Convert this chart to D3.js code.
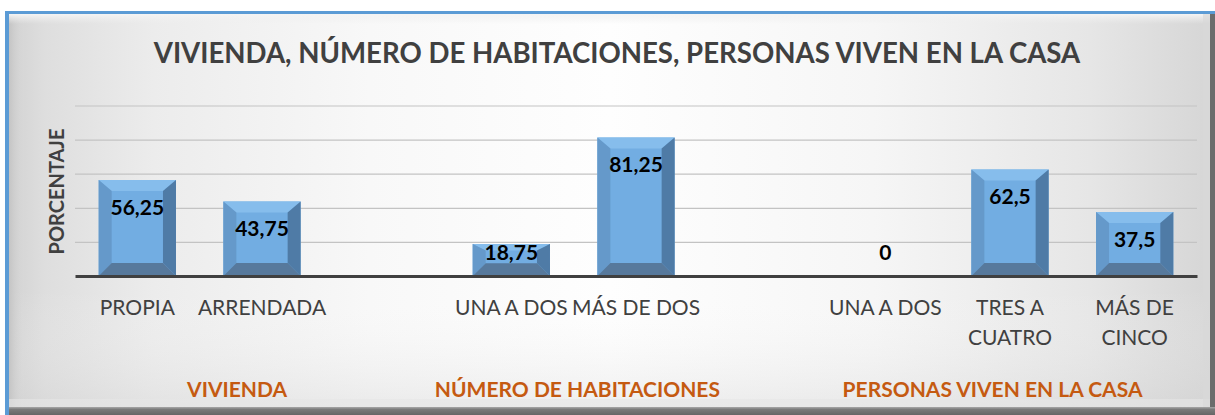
<!DOCTYPE html>
<html>
<head>
<meta charset="utf-8">
<script src="https://cdn.jsdelivr.net/npm/d3@7"></script>
<style>
  html, body { margin: 0; padding: 0; background: #ffffff; }
  svg { display: block; }
</style>
</head>
<body>
<svg id="chart" width="1215" height="415"></svg>
<script>
// ---------------- DATA ----------------
const title = "VIVIENDA, NÚMERO DE HABITACIONES, PERSONAS VIVEN EN LA CASA";
const yAxisTitle = "PORCENTAJE";
const categories = ["PROPIA", "ARRENDADA", "", "UNA A DOS", "MÁS DE DOS", "", "UNA A DOS", "TRES A CUATRO", "MÁS DE CINCO"];
const categoryLines = [["PROPIA"], ["ARRENDADA"], [], ["UNA A DOS"], ["MÁS DE DOS"], [], ["UNA A DOS"], ["TRES A", "CUATRO"], ["MÁS DE", "CINCO"]];
const values = [56.25, 43.75, null, 18.75, 81.25, null, 0, 62.5, 37.5];
const valueLabels = ["56,25", "43,75", "", "18,75", "81,25", "", "0", "62,5", "37,5"];
const groups = ["VIVIENDA", "NÚMERO DE HABITACIONES", "PERSONAS VIVEN EN LA CASA"];
const yTicks = [0, 20, 40, 60, 80, 100];

// ---------------- LAYOUT ----------------
const W = 1215, H = 415;
const plot = { left: 75, right: 1197, top: 105.5, bottom: 276 };
// group label centres, in category-slot units from the left of the plot
const groupSlotCentre = [1.30, 4.03, 7.36];

const svg = d3.select("#chart");
const defs = svg.append("defs");

// background gradients
const bg = defs.append("linearGradient").attr("id", "bgH").attr("x1", 0).attr("x2", 1).attr("y1", 0).attr("y2", 0);
[[0, "#d2d2d2"], [0.03, "#dedede"], [0.12, "#ececec"], [0.3, "#f8f8f8"], [0.5, "#fefefe"], [0.72, "#f6f6f6"], [0.9, "#e6e6e6"], [1, "#d6d6d6"]]
  .forEach(([o, c]) => bg.append("stop").attr("offset", o).attr("stop-color", c));
const bgV = defs.append("linearGradient").attr("id", "bgV").attr("x1", 0).attr("x2", 0).attr("y1", 0).attr("y2", 1);
[[0, "#ffffff", 0.0], [0.7, "#ffffff", 0.0], [1, "#d0d0d0", 0.35]]
  .forEach(([o, c, a]) => bgV.append("stop").attr("offset", o).attr("stop-color", c).attr("stop-opacity", a));
const botShadow = defs.append("linearGradient").attr("id", "botS").attr("x1", 0).attr("x2", 0).attr("y1", 0).attr("y2", 1);
[[0, "#a8a8a8"], [0.3, "#7a7a7a"], [1, "#666666"]]
  .forEach(([o, c]) => botShadow.append("stop").attr("offset", o).attr("stop-color", c));
const leftBevel = defs.append("linearGradient").attr("id", "lB").attr("x1", 0).attr("x2", 1).attr("y1", 0).attr("y2", 0);
[[0, "#c4c4c4", 1], [1, "#dcdcdc", 0]]
  .forEach(([o, c, a]) => leftBevel.append("stop").attr("offset", o).attr("stop-color", c).attr("stop-opacity", a));
const topBevel = defs.append("linearGradient").attr("id", "tB").attr("x1", 0).attr("x2", 0).attr("y1", 0).attr("y2", 1);
[[0, "#f4f4f4", 1], [1, "#eeeeee", 0]]
  .forEach(([o, c, a]) => topBevel.append("stop").attr("offset", o).attr("stop-color", c).attr("stop-opacity", a));

// frame
svg.append("rect").attr("x", 9).attr("y", 14).attr("width", 1201).attr("height", 393).attr("fill", "url(#bgH)");
svg.append("rect").attr("x", 9).attr("y", 14).attr("width", 1201).attr("height", 393).attr("fill", "url(#bgV)");
svg.append("rect").attr("x", 9).attr("y", 14).attr("width", 16).attr("height", 393).attr("fill", "url(#lB)");
svg.append("rect").attr("x", 9).attr("y", 14).attr("width", 1201).attr("height", 10).attr("fill", "url(#tB)");
svg.append("rect").attr("x", 9).attr("y", 399).attr("width", 1201).attr("height", 8).attr("fill", "#e6e6e6").attr("opacity", 0.6);
svg.append("rect").attr("x", 1203).attr("y", 14).attr("width", 7).attr("height", 393).attr("fill", "#d8d8d8").attr("opacity", 0.7);
svg.append("rect").attr("x", 1210).attr("y", 14).attr("width", 5).attr("height", 401).attr("fill", "#6c6c6c");
svg.append("rect").attr("x", 9).attr("y", 407).attr("width", 1206).attr("height", 8).attr("fill", "url(#botS)");
// blue border (top & left)
svg.append("rect").attr("x", 5).attr("y", 11).attr("width", 1210).attr("height", 3).attr("fill", "#5b9bd5");
svg.append("rect").attr("x", 5).attr("y", 11).attr("width", 4).attr("height", 404).attr("fill", "#5b9bd5");

// ---------------- SCALES ----------------
const x = d3.scaleBand().domain(d3.range(categories.length)).range([plot.left, plot.right])
  .paddingInner(0.38).paddingOuter(0.19);
const y = d3.scaleLinear().domain([0, 100]).range([plot.bottom, plot.top]);
const step = x.step();

// gridlines
const grid = svg.append("g").attr("transform", `translate(${plot.left},0)`)
  .call(d3.axisLeft(y).tickValues(yTicks.filter(t => t > 0)).tickSize(-(plot.right - plot.left)).tickFormat(""));
grid.select(".domain").remove();
grid.selectAll(".tick line").attr("stroke", "#c3c3c3").attr("stroke-width", 1.2);

// ---------------- BARS (bevelled) ----------------
const faceCol = "#72ade2", topCol = "#86bdec", leftCol = "#6599ca", rightCol = "#4f7ba6", botCol = "#57799c";
const barG = svg.append("g");
values.forEach((v, i) => {
  if (v === null || v <= 0) return;
  const x0 = x(i), x1 = x(i) + x.bandwidth();
  const y0 = y(v), y1 = y(0);
  const h = y1 - y0;
  const s = Math.min(13, x.bandwidth() * 0.18);
  const bt = Math.min(11, h * 0.2);
  const bb = Math.min(13, h * 0.4);
  const g = barG.append("g");
  const poly = (pts, fill) => g.append("polygon").attr("points", pts.map(p => p.join(",")).join(" ")).attr("fill", fill);
  poly([[x0, y0], [x1, y0], [x1, y1], [x0, y1]], faceCol);
  poly([[x0, y0], [x1, y0], [x1 - s, y0 + bt], [x0 + s, y0 + bt]], topCol);
  poly([[x0, y0], [x0 + s, y0 + bt], [x0 + s, y1 - bb], [x0, y1]], leftCol);
  poly([[x1, y0], [x1, y1], [x1 - s, y1 - bb], [x1 - s, y0 + bt]], rightCol);
  poly([[x0, y1], [x0 + s, y1 - bb], [x1 - s, y1 - bb], [x1, y1]], botCol);
});

// baseline axis
svg.append("g").attr("transform", `translate(0,${y(0)})`)
  .call(d3.axisBottom(x).tickSize(0).tickFormat(""))
  .call(g => g.select(".domain").attr("stroke", "#404040").attr("stroke-width", 3.2));

// value labels
const capRatio = 0.7165;
const labelSize = 21;
values.forEach((v, i) => {
  if (v === null) return;
  const cy = Math.min(y(v) + 27, y(0) - 24);
  svg.append("text")
    .attr("x", x(i) + x.bandwidth() / 2)
    .attr("y", cy + labelSize * capRatio / 2)
    .attr("text-anchor", "middle")
    .attr("font-family", "Lato, sans-serif").attr("font-weight", 700).attr("font-size", labelSize)
    .attr("fill", "#000000")
    .text(valueLabels[i]);
});

// category labels
const catSize = 21;
categoryLines.forEach((lines, i) => {
  lines.forEach((ln, k) => {
    svg.append("text")
      .attr("x", x(i) + x.bandwidth() / 2)
      .attr("y", 315 + k * 30)
      .attr("text-anchor", "middle")
      .attr("font-family", "Lato, sans-serif").attr("font-weight", 400).attr("font-size", catSize)
      .attr("fill", "#404040")
      .text(ln);
  });
});

// group labels
groups.forEach((gname, j) => {
  svg.append("text")
    .attr("x", plot.left + groupSlotCentre[j] * step)
    .attr("y", 397)
    .attr("text-anchor", "middle")
    .attr("font-family", "Lato, sans-serif").attr("font-weight", 700).attr("font-size", 21)
    .attr("fill", "#c55a11")
    .text(gname);
});

// title
svg.append("text")
  .attr("x", 617).attr("y", 63)
  .attr("text-anchor", "middle")
  .attr("font-family", "Lato, sans-serif").attr("font-weight", 700).attr("font-size", 27.6)
  .attr("fill", "#404040")
  .text(title);

// y axis title
svg.append("text")
  .attr("transform", `translate(64,191.5) rotate(-90)`)
  .attr("text-anchor", "middle")
  .attr("font-family", "Lato, sans-serif").attr("font-weight", 700).attr("font-size", 20)
  .attr("fill", "#404040")
  .text(yAxisTitle);
</script>
</body>
</html>
